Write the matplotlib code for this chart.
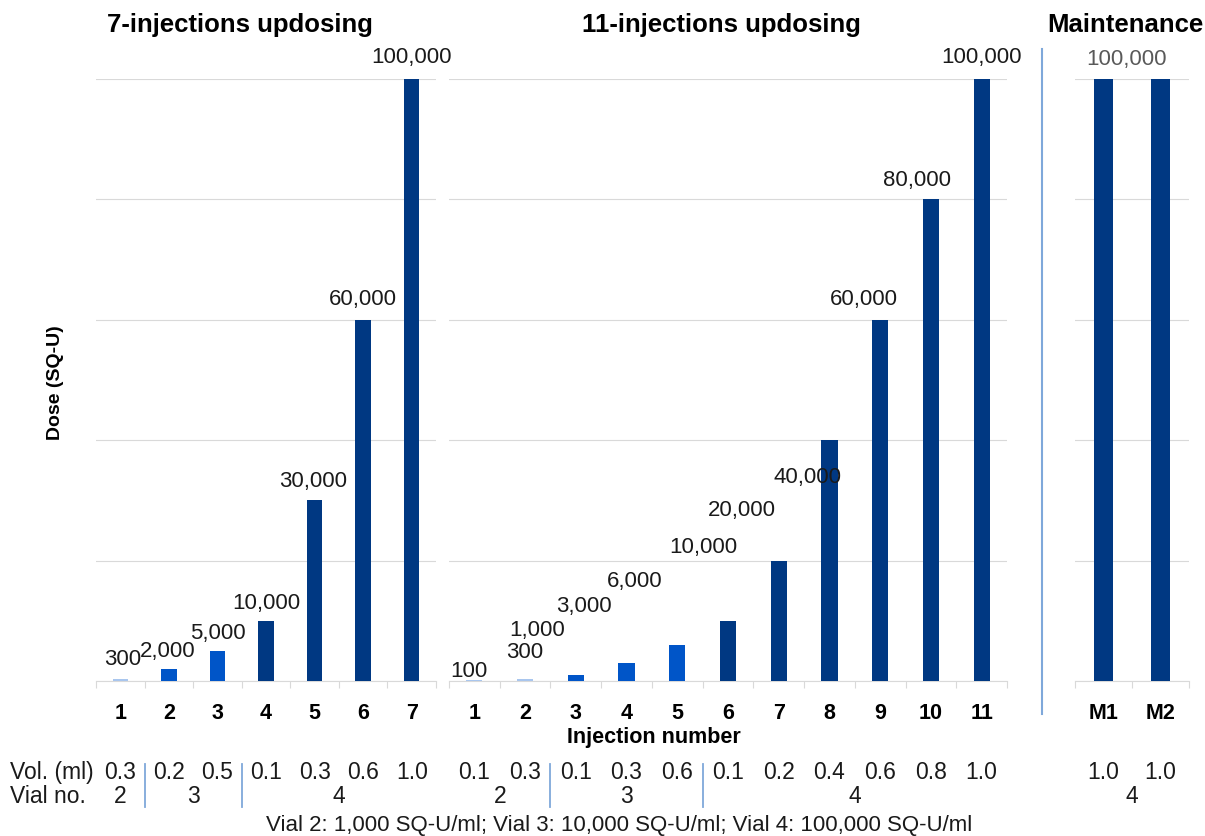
import matplotlib
matplotlib.use('Agg')
import matplotlib.pyplot as plt
import matplotlib.transforms as mtrans
from matplotlib.lines import Line2D
import numpy as np

plt.rcParams['font.family'] = ['Liberation Sans', 'DejaVu Sans']

# ── data ──────────────────────────────────────────────────────────────
inj7_labels = ['1', '2', '3', '4', '5', '6', '7']
inj7_doses = [300, 2000, 5000, 10000, 30000, 60000, 100000]
inj7_vol = [0.3, 0.2, 0.5, 0.1, 0.3, 0.6, 1.0]
inj7_vial = [2, 3, 3, 4, 4, 4, 4]

inj11_labels = ['1', '2', '3', '4', '5', '6', '7', '8', '9', '10', '11']
inj11_doses = [100, 300, 1000, 3000, 6000, 10000, 20000, 40000, 60000, 80000, 100000]
inj11_vol = [0.1, 0.3, 0.1, 0.3, 0.6, 0.1, 0.2, 0.4, 0.6, 0.8, 1.0]
inj11_vial = [2, 2, 3, 3, 3, 4, 4, 4, 4, 4, 4]

maint_labels = ['M1', 'M2']
maint_doses = [100000, 100000]
maint_vol = [1.0, 1.0]
maint_vial = [4, 4]

titles = ['7-injections updosing', '11-injections updosing', 'Maintenance']
footnote = 'Vial 2: 1,000 SQ-U/ml; Vial 3: 10,000 SQ-U/ml; Vial 4: 100,000 SQ-U/ml'

# ── style ─────────────────────────────────────────────────────────────
vial_colors = {2: '#A9C6EE', 3: '#0055C8', 4: '#003882'}
grid_c = '#D9D9D9'
sep_c = '#7FA8DA'
txt_c = '#1a1a1a'
VAL_FS = 16
TAB_FS = 16.5

W, H = 1205, 837
fig = plt.figure(figsize=(W / 100, H / 100), dpi=100)


def fx(x):
    return x / W


def fy(y):
    return 1 - y / H


AX_TOP, AX_BOT = 80, 682
VOL_Y, VIAL_Y = 773, 797

# label offsets (pixels) from bar tops, as placed in the original slide
off7 = [(2, 21), (-1, 18), (0, 18), (0, 18), (-1, 20), (0, 21), (0, 23)]
off11 = [(-5, 10), (0, 28), (-39, 45), (-43, 57), (-43, 64), (-25, 74),
         (-37, 51), (-22, -36), (-16, 21), (-14, 20), (0, 22)]

panels = [
    (96, 436, 240, inj7_labels, inj7_doses, inj7_vol, inj7_vial, off7),
    (449, 1007, 721, inj11_labels, inj11_doses, inj11_vol, inj11_vial, off11),
    (1075, 1189, 1125, maint_labels, maint_doses, maint_vol, maint_vial, None),
]

for (left, right, tx, labels, doses, vols, vials, offs), title in zip(panels, titles):
    ax = fig.add_axes([fx(left), fy(AX_BOT), fx(right) - fx(left),
                       (AX_BOT - AX_TOP) / H])
    n = len(doses)
    x = np.arange(n)
    ax.bar(x, doses, width=0.32, color=[vial_colors[v] for v in vials], zorder=3)
    ax.set_xlim(-0.5, n - 0.5)
    ax.set_ylim(0, 100000)
    ax.set_yticks(np.arange(0, 100001, 20000))
    ax.yaxis.grid(True, color=grid_c, lw=0.8)
    ax.set_axisbelow(True)
    ax.tick_params(axis='y', left=False, labelleft=False)
    for s in ['top', 'right', 'left']:
        ax.spines[s].set_visible(False)
    ax.spines['bottom'].set_color(grid_c)
    ax.set_xticks(x, labels, fontweight='bold', fontsize=15.5)
    ax.set_xticks(np.arange(n + 1) - 0.5, minor=True)
    ax.tick_params(axis='x', which='major', length=0, pad=15)
    ax.tick_params(axis='x', which='minor', length=5, color=grid_c, width=0.8)

    # value labels
    if offs is not None:
        for i, d in enumerate(doses):
            ax.annotate(f'{d:,}', (i, d), xytext=offs[i], textcoords='offset pixels',
                        ha='center', va='center', fontsize=VAL_FS, color=txt_c,
                        annotation_clip=False)
    else:
        ax.annotate(f'{doses[0]:,}', ((n - 1) / 2, doses[0]), xytext=(-5, 21),
                    textcoords='offset pixels', ha='center', va='center',
                    fontsize=VAL_FS, color='#595959', annotation_clip=False)

    fig.text(fx(tx), fy(25), title, ha='center', va='center',
             fontsize=18.5, fontweight='bold', color='black')

    # volume / vial table under the axis
    trans = mtrans.blended_transform_factory(ax.transData, fig.transFigure)
    for i, v in enumerate(vols):
        ax.text(i, fy(VOL_Y), f'{v:.1f}', transform=trans, ha='center',
                va='center', fontsize=TAB_FS, color=txt_c)
    start = 0
    for i in range(1, n + 1):
        if i == n or vials[i] != vials[start]:
            ax.text((start + i - 1) / 2, fy(VIAL_Y), str(vials[start]),
                    transform=trans, ha='center', va='center', fontsize=TAB_FS,
                    color=txt_c)
            if i < n:
                ax.add_line(Line2D([i - 0.5, i - 0.5], [fy(765), fy(808)],
                                   transform=trans, color=sep_c, lw=1.3,
                                   clip_on=False))
            start = i

# separator between updosing and maintenance
fig.add_artist(Line2D([fx(1042), fx(1042)], [fy(50), fy(715)],
                      transform=fig.transFigure, color=sep_c, lw=1.5))

fig.text(fx(55), fy(383), 'Dose (SQ-U)', rotation=90, ha='center', va='center',
         fontsize=14, fontweight='bold', color='black')
fig.text(fx(654), fy(738), 'Injection number', ha='center', va='center',
         fontsize=15.5, fontweight='bold', color='black')
fig.text(fx(10), fy(VOL_Y), 'Vol. (ml)', ha='left', va='center',
         fontsize=TAB_FS, color=txt_c)
fig.text(fx(10), fy(VIAL_Y), 'Vial no.', ha='left', va='center',
         fontsize=TAB_FS, color=txt_c)
fig.text(fx(619), fy(826), footnote, ha='center', va='center',
         fontsize=16, color=txt_c)

fig.savefig('out.png', dpi=100)
